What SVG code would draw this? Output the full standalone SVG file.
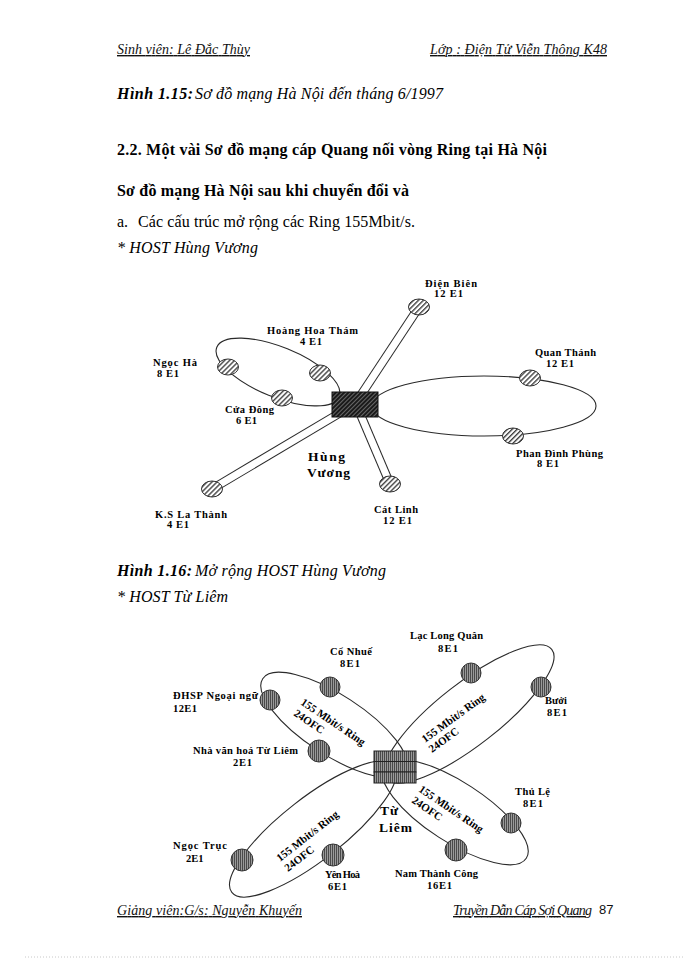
<svg xmlns="http://www.w3.org/2000/svg" width="700" height="960" viewBox="0 0 700 960">
<defs>
  <pattern id="hatch" width="3.5" height="3.5" patternUnits="userSpaceOnUse" patternTransform="rotate(45)">
    <rect width="3.5" height="3.5" fill="#fff"/>
    <line x1="0.7" y1="0" x2="0.7" y2="3.5" stroke="#333" stroke-width="1.3"/>
  </pattern>
  <pattern id="darkhatch" width="3" height="3" patternUnits="userSpaceOnUse" patternTransform="rotate(45)">
    <rect width="3" height="3" fill="#1a1a1a"/>
    <line x1="0.5" y1="0" x2="0.5" y2="3" stroke="#8a8a8a" stroke-width="0.7"/>
  </pattern>
  <pattern id="vstripe" width="2" height="4" patternUnits="userSpaceOnUse">
    <rect width="2" height="4" fill="#9a9a9a"/>
    <rect width="1" height="4" fill="#4a4a4a"/>
  </pattern>
  <style>
    .hdr { font-family: "Liberation Serif", serif; font-style: italic; font-size: 14px; text-decoration: underline; fill: #111; }
    .it { font-family: "Liberation Serif", serif; font-style: italic; font-size: 16px; fill: #000; }
    .bi { font-family: "Liberation Serif", serif; font-style: italic; font-weight: bold; font-size: 16px; fill: #000; }
    .bd { font-family: "Liberation Serif", serif; font-weight: bold; font-size: 16px; fill: #000; }
    .rg { font-family: "Liberation Serif", serif; font-size: 16px; fill: #000; }
    .lbl { font-family: "Liberation Serif", serif; font-weight: bold; font-size: 10.5px; fill: #000; }
    .rl { font-family: "Liberation Serif", serif; font-weight: bold; font-size: 11px; fill: #000; }
    .host { font-family: "Liberation Serif", serif; font-weight: bold; font-size: 13.5px; fill: #000; }
    .ring { fill: none; stroke: #2a2a2a; stroke-width: 1.1; }
    .tubeo { fill: none; stroke: #2a2a2a; stroke-width: 9; }
    .tubei { fill: none; stroke: #fff; stroke-width: 7; }
    .n1 { fill: url(#hatch); stroke: #333; stroke-width: 1; }
    .n2 { fill: url(#vstripe); stroke: #333; stroke-width: 1; }
  </style>
</defs>
<rect width="700" height="960" fill="#fff"/>

<!-- page text -->
<text class="hdr" x="117" y="54" textLength="133">Sinh viên: Lê Đắc Thùy</text>
<text class="hdr" x="430" y="54" textLength="177">Lớp : Điện Tử Viễn Thông K48</text>
<text class="bi" x="117" y="99" textLength="76">Hình 1.15:</text>
<text class="it" x="195" y="99" textLength="248">Sơ đồ mạng Hà Nội đến tháng 6/1997</text>
<text class="bd" x="117" y="155" textLength="430">2.2. Một vài Sơ đồ mạng cáp Quang nối vòng Ring tại Hà Nội</text>
<text class="bd" x="117" y="196" textLength="292">Sơ đồ mạng Hà Nội sau khi chuyển đổi và</text>
<text class="rg" x="117" y="227">a.</text>
<text class="rg" x="138" y="227" textLength="277">Các cấu trúc mở rộng các Ring 155Mbit/s.</text>
<text class="it" x="117" y="253" font-size="15" textLength="141">* HOST Hùng Vương</text>
<text class="bi" x="117" y="576" textLength="75">Hình 1.16:</text>
<text class="it" x="195" y="576" textLength="191">Mở rộng HOST Hùng Vương</text>
<text class="it" x="117" y="602" font-size="15" textLength="111">* HOST Từ Liêm</text>
<text class="hdr" x="117" y="915" textLength="185">Giảng viên:G/s: Nguyễn Khuyến</text>
<text class="hdr" x="453" y="915" textLength="139">Truyền Dẫn Cáp Sợi Quang</text>
<text x="599" y="914" font-family="Liberation Sans, sans-serif" font-size="13" fill="#111">87</text>
<line x1="25" y1="957" x2="685" y2="957" stroke="#c8c8c8" stroke-width="1" stroke-dasharray="1,2"/>

<!-- ===== Diagram 1: HOST Hùng Vương ===== -->
<g id="connectors-hv">
  <ellipse class="ring" cx="278" cy="372" rx="66" ry="25" transform="rotate(22 278 372)"/>
  <ellipse class="ring" cx="484" cy="406" rx="112" ry="30"/>
  <path class="tubeo" d="M355,404 L419,307"/>
  <path class="tubei" d="M355,404 L419,307"/>
  <path class="tubeo" d="M355,404 L212,489"/>
  <path class="tubei" d="M355,404 L212,489"/>
  <path class="tubeo" d="M356,404 L390,484"/>
  <path class="tubei" d="M356,404 L390,484"/>
</g>
<g id="hv-host">
  <rect x="332" y="392" width="46" height="25" fill="url(#darkhatch)" stroke="#111" stroke-width="1"/>
  <text class="host" x="308" y="461" textLength="37">Hùng</text>
  <text class="host" x="307" y="477" textLength="43">Vương</text>
</g>
<g id="hv-dienbien">
  <ellipse class="n1" cx="419" cy="307" rx="10.5" ry="8"/>
  <text class="lbl" x="425" y="287" textLength="52">Điện Biên</text>
  <text class="lbl" x="434" y="297" textLength="29">12 E1</text>
</g>
<g id="hv-hoanghoatham">
  <ellipse class="n1" cx="320" cy="373" rx="10.5" ry="8"/>
  <text class="lbl" x="267" y="334" textLength="91">Hoàng Hoa Thám</text>
  <text class="lbl" x="300" y="345" textLength="22">4 E1</text>
</g>
<g id="hv-ngocha">
  <ellipse class="n1" cx="228" cy="367" rx="10.5" ry="8"/>
  <text class="lbl" x="153" y="366" textLength="44">Ngọc Hà</text>
  <text class="lbl" x="157" y="377" textLength="22">8 E1</text>
</g>
<g id="hv-cuadong">
  <ellipse class="n1" cx="282" cy="398" rx="10.5" ry="8"/>
  <text class="lbl" x="225" y="413" textLength="49">Cửa Đông</text>
  <text class="lbl" x="236" y="424" textLength="21">6 E1</text>
</g>
<g id="hv-quanthanh">
  <ellipse class="n1" cx="530" cy="378" rx="10.5" ry="8"/>
  <text class="lbl" x="535" y="356" textLength="61">Quan Thánh</text>
  <text class="lbl" x="546" y="367" textLength="28">12 E1</text>
</g>
<g id="hv-phandinhphung">
  <ellipse class="n1" cx="513" cy="436" rx="10.5" ry="8"/>
  <text class="lbl" x="516" y="457" textLength="87">Phan Đình Phùng</text>
  <text class="lbl" x="537" y="467" textLength="22">8 E1</text>
</g>
<g id="hv-kslathanh">
  <ellipse class="n1" cx="212" cy="489" rx="10.5" ry="8"/>
  <text class="lbl" x="155" y="518" textLength="72">K.S La Thành</text>
  <text class="lbl" x="167" y="528" textLength="22">4 E1</text>
</g>
<g id="hv-catlinh">
  <ellipse class="n1" cx="390" cy="484" rx="10.5" ry="8"/>
  <text class="lbl" x="374" y="513" textLength="44">Cát Linh</text>
  <text class="lbl" x="383" y="524" textLength="29">12 E1</text>
</g>

<!-- ===== Diagram 2: HOST Từ Liêm ===== -->
<g id="connectors-tl">
  <ellipse class="ring" cx="334" cy="725" rx="85" ry="30" transform="rotate(33 334 725)"/>
  <ellipse class="ring" cx="469" cy="714" rx="105" ry="31" transform="rotate(-38 469 714)"/>
  <ellipse class="ring" cx="455" cy="812" rx="85" ry="30" transform="rotate(33 455 812)"/>
  <ellipse class="ring" cx="313" cy="829" rx="103" ry="31" transform="rotate(-38 313 829)"/>
</g>
<g id="tl-ringlabels">
  <text class="rl" transform="translate(300 704) rotate(34)">155 Mbit/s Ring</text>
  <text class="rl" transform="translate(293 715) rotate(34)">24OFC</text>
  <text class="rl" transform="translate(425 743) rotate(-36)">155 Mbit/s Ring</text>
  <text class="rl" transform="translate(432 753) rotate(-36)">24OFC</text>
  <text class="rl" transform="translate(418 791) rotate(34)">155 Mbit/s Ring</text>
  <text class="rl" transform="translate(411 802) rotate(34)">24OFC</text>
  <text class="rl" transform="translate(280 862) rotate(-38)">155 Mbit/s Ring</text>
  <text class="rl" transform="translate(288 872) rotate(-38)">24OFC</text>
</g>
<g id="tl-host">
  <rect x="374" y="751" width="42" height="10.5" fill="url(#vstripe)" stroke="#222" stroke-width="1"/>
  <rect x="374" y="761.5" width="42" height="10.5" fill="url(#vstripe)" stroke="#222" stroke-width="1"/>
  <rect x="374" y="772" width="42" height="11" fill="url(#vstripe)" stroke="#222" stroke-width="1"/>
  <text class="host" x="380" y="815" font-size="14" textLength="18">Từ</text>
  <text class="host" x="379" y="832" font-size="14" textLength="33">Liêm</text>
</g>
<g id="tl-conhue">
  <circle class="n2" cx="330" cy="687" r="10"/>
  <text class="lbl" x="330" y="655" textLength="42">Cổ Nhuế</text>
  <text class="lbl" x="340" y="667" textLength="20">8E1</text>
</g>
<g id="tl-dhsp">
  <circle class="n2" cx="270" cy="700" r="10"/>
  <text class="lbl" x="173" y="699" textLength="85">ĐHSP Ngoại ngữ</text>
  <text class="lbl" x="173" y="712" textLength="24">12E1</text>
</g>
<g id="tl-nhavanhoa">
  <circle class="n2" cx="319" cy="751" r="11"/>
  <text class="lbl" x="193" y="754" textLength="105">Nhà văn hoá Từ Liêm</text>
  <text class="lbl" x="233" y="766" textLength="19">2E1</text>
</g>
<g id="tl-laclongquan">
  <circle class="n2" cx="471" cy="673" r="10"/>
  <text class="lbl" x="410" y="639" textLength="73">Lạc Long Quân</text>
  <text class="lbl" x="438" y="652" textLength="20">8E1</text>
</g>
<g id="tl-buoi">
  <circle class="n2" cx="541" cy="687" r="10"/>
  <text class="lbl" x="545" y="704" textLength="22">Bưởi</text>
  <text class="lbl" x="547" y="716" textLength="20">8E1</text>
</g>
<g id="tl-thule">
  <circle class="n2" cx="511" cy="823" r="10"/>
  <text class="lbl" x="515" y="795" textLength="35">Thủ Lệ</text>
  <text class="lbl" x="523" y="807" textLength="20">8E1</text>
</g>
<g id="tl-namthanhcong">
  <circle class="n2" cx="456" cy="850" r="11"/>
  <text class="lbl" x="395" y="877" textLength="83">Nam Thành Công</text>
  <text class="lbl" x="427" y="889" textLength="25">16E1</text>
</g>
<g id="tl-yenhoa">
  <circle class="n2" cx="333" cy="855" r="11"/>
  <text class="lbl" x="325" y="878" textLength="35">Yên Hoà</text>
  <text class="lbl" x="328" y="890" textLength="19">6E1</text>
</g>
<g id="tl-ngoctruc">
  <circle class="n2" cx="242" cy="860" r="11"/>
  <text class="lbl" x="173" y="849" textLength="54">Ngọc Trục</text>
  <text class="lbl" x="186" y="862">2E1</text>
</g>
</svg>
